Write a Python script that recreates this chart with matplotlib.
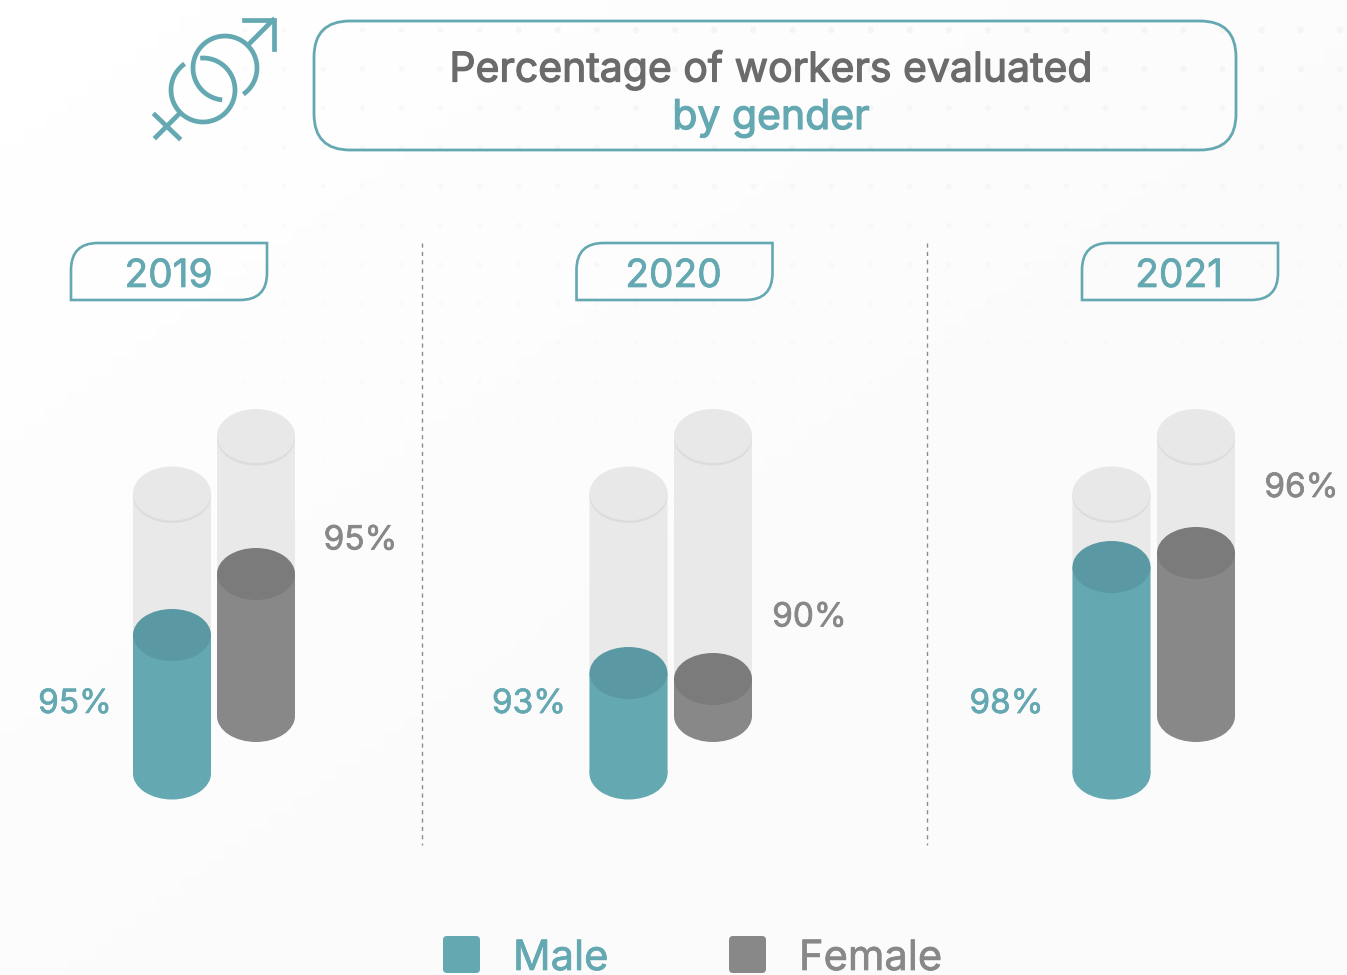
import numpy as np
import matplotlib.pyplot as plt
import matplotlib.patheffects as pe
from matplotlib.patches import Ellipse, Rectangle, FancyBboxPatch, PathPatch
from matplotlib.path import Path

# Datos
years = ["2019", "2020", "2021"]
male_pct = [95, 93, 98]
female_pct = [95, 90, 96]
# altura del relleno sobre la base del cilindro (el dibujo no sigue el %)
male_fill = [138.5, 100.5, 206.5]
female_fill = [142, 37, 163]
empty_height = 280

# Layout
TEAL = "#64a8b2"
TEAL_DK = "#5a99a3"
GRAY = "#888888"
GRAY_DK = "#7b7b7b"
TXT = "#6b6b6b"
FONT = "Inter"
male_x = [172, 628.5, 1111.5]
female_x = [256, 713, 1196]
male_base = 773.5
female_base = 716
tab_x = [71, 576.5, 1082]
year_x = [168.5, 673.5, 1179]
male_lab_x = [75, 529, 1006.5]
female_lab = [(360.5, 537), (809.5, 614), (1301.5, 484.5)]
RX, RY = 39, 26

plt.rcParams['font.family'] = [FONT, 'DejaVu Sans']

fig = plt.figure(figsize=(13.47, 9.75), dpi=100)
ax = fig.add_axes([0, 0, 1, 1])
ax.set_xlim(0, 1347)
ax.set_ylim(975, 0)
ax.axis("off")

# Fondo con degradado suave
gx, gy = np.meshgrid(np.linspace(0, 1, 60), np.linspace(0, 1, 60))
ax.imshow(254.5 - 4 * np.clip((gx + gy) / 1.2, 0, 1), cmap="gray", vmin=0, vmax=255,
          extent=(0, 1347, 975, 0), aspect="auto", zorder=0)

# Trama de puntos muy tenue arriba a la derecha
dx, dy = np.meshgrid(np.arange(245, 1347, 39.1), np.arange(30, 520, 39.1))
fade = np.clip(1 - dy / 520, 0, 1) * np.clip((dx - 200) / 500, 0, 1) ** 0.5
ax.scatter(dx.ravel(), dy.ravel(), s=6 + 16 * fade.ravel(), c=(251 - 7 * fade.ravel()) / 255,
           cmap="gray", vmin=0, vmax=1, linewidths=0, zorder=1)


def bold_fx(color, w=0.5):
    return [pe.withStroke(linewidth=w, foreground=color)]


def cylinder(x, base, fill, color, color_top):
    top = base - empty_height
    # parte vacia
    ax.add_patch(Rectangle((x - RX, top), 2 * RX, empty_height, fc="#e9e9e9", ec="none", zorder=2, snap=False))
    ax.add_patch(Ellipse((x, top + 2.5), 2 * RX, 2 * RY + 2, fc="#dcdcdc", ec="none", zorder=3))
    ax.add_patch(Ellipse((x, top), 2 * RX, 2 * RY + 2, fc="#e8e8e8", ec="none", zorder=3))
    # relleno
    y = base - fill
    ax.add_patch(Rectangle((x - RX, y), 2 * RX, fill, fc=color, ec="none", zorder=4, snap=False))
    ax.add_patch(Ellipse((x, base), 2 * RX, 2 * RY, fc=color, ec="none", zorder=4))
    ax.add_patch(Ellipse((x, y), 2 * RX, 2 * RY, fc=color_top, ec="none", zorder=5))


def year_tab(x0, y0=243, w=196, h=57, r=27):
    x1, y1 = x0 + w, y0 + h
    verts = [(x0, y1), (x0, y0 + r), (x0, y0), (x0 + r, y0), (x1, y0), (x1, y1 - r), (x1, y1),
             (x1 - r, y1), (x0, y1)]
    codes = [Path.MOVETO, Path.LINETO, Path.CURVE3, Path.CURVE3, Path.LINETO, Path.LINETO,
             Path.CURVE3, Path.CURVE3, Path.CLOSEPOLY]
    ax.add_patch(PathPatch(Path(verts, codes), fc="none", ec=TEAL, lw=1.9, zorder=3))


for i in range(3):
    cylinder(male_x[i], male_base, male_fill[i], TEAL, TEAL_DK)
    cylinder(female_x[i], female_base, female_fill[i], GRAY, GRAY_DK)
    year_tab(tab_x[i])
    ax.text(year_x[i], 272.5, years[i], color=TEAL, fontsize=28, ha="center", va="center_baseline",
            path_effects=bold_fx(TEAL))
    ax.text(male_lab_x[i], 700.5, f"{male_pct[i]}%", color=TEAL, fontsize=24, ha="center", va="center_baseline",
            path_effects=bold_fx(TEAL))
    ax.text(female_lab[i][0], female_lab[i][1], f"{female_pct[i]}%", color=GRAY, fontsize=24,
            ha="center", va="center_baseline", path_effects=bold_fx(GRAY))

# Separadores
for x in (422, 927):
    ax.plot([x, x], [243, 845], color="#8c8c8c", lw=1, ls=(0, (3, 3)), zorder=2)

# Titulo
ax.add_patch(FancyBboxPatch((314 + 36, 21 + 36), 922 - 72, 129 - 72, boxstyle="round,pad=36,rounding_size=36",
                            fc="none", ec=TEAL, lw=2, zorder=3))
ax.text(771, 65.5, "Percentage of workers evaluated", color=TXT, fontsize=29.5,
        ha="center", va="center_baseline", path_effects=bold_fx(TXT, 0.9))
ax.text(771, 114, "by gender", color=TEAL, fontsize=29.5, ha="center", va="center_baseline",
        path_effects=bold_fx(TEAL, 0.9))


# Icono
def arc(cx, cy, r, a0, a1):
    t = np.radians(np.linspace(a0, a1, 80))
    ax.plot(cx + r * np.cos(t), cy - r * np.sin(t), color=TEAL, lw=3.4, solid_capstyle="butt", zorder=3)


arc(225, 68, 32, -55, 265)
arc(203, 90, 32, 125, 455)
ax.plot([248, 273], [45, 20], color=TEAL, lw=3.4, zorder=3)
ax.plot([244, 274, 274], [19.5, 19.5, 49], color=TEAL, lw=3.4, solid_joinstyle="miter", zorder=3)
ax.plot([180, 156], [113, 137], color=TEAL, lw=3.4, zorder=3)
ax.plot([155, 179], [115, 138], color=TEAL, lw=3.4, zorder=3)

# Leyenda
ax.add_patch(FancyBboxPatch((445, 938), 33, 33, boxstyle="round,pad=2,rounding_size=4", fc=TEAL, ec="none", zorder=3))
ax.add_patch(FancyBboxPatch((731, 938), 33, 33, boxstyle="round,pad=2,rounding_size=4", fc=GRAY, ec="none", zorder=3))
ax.text(513, 970, "Male", color=TEAL, fontsize=30, ha="left", va="baseline", path_effects=bold_fx(TEAL))
ax.text(799, 970, "Female", color=GRAY, fontsize=30, ha="left", va="baseline", path_effects=bold_fx(GRAY))

fig.savefig("out.png", dpi=100)
